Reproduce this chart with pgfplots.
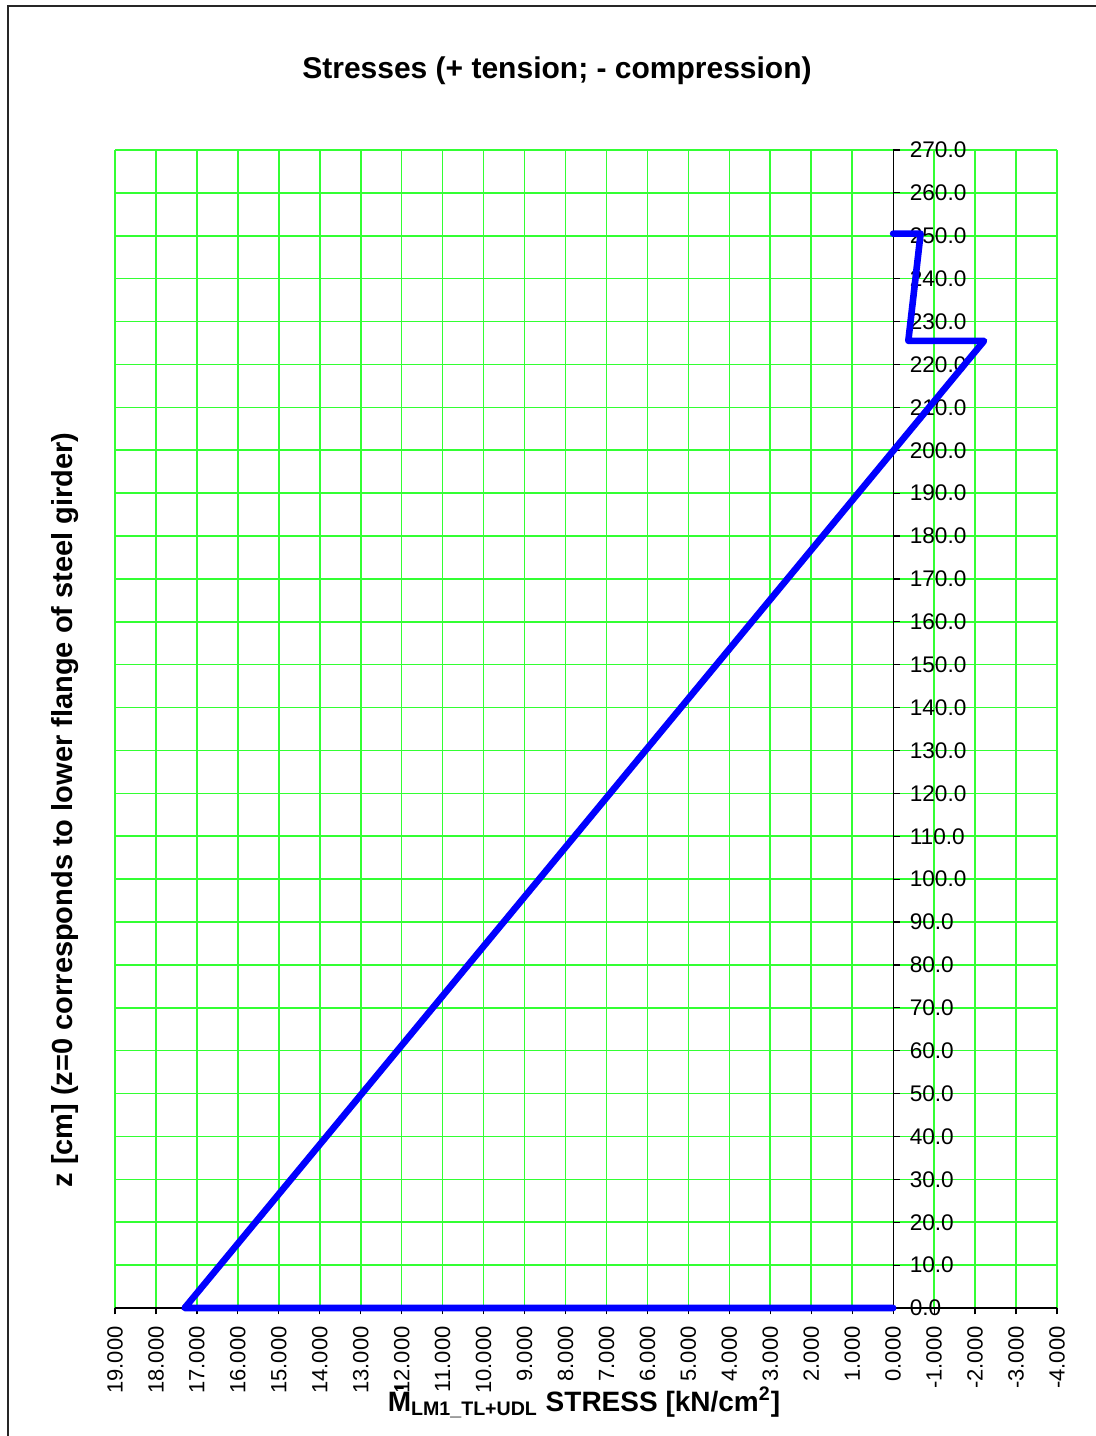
\documentclass[border=0pt]{standalone}
\usepackage{fontspec}
\setmainfont{Liberation Sans}
\usepackage{pgfplots}
\pgfplotsset{compat=1.18}
\definecolor{gridgreen}{RGB}{51,255,51}
\definecolor{lineblue}{RGB}{0,0,255}

\begin{document}
\begin{tikzpicture}
% frame, title and axis titles, laid out on a 0.5pt grid
\begin{scope}[x=0.5pt,y=-0.5pt]
  \useasboundingbox (0,0) rectangle (1096,1436);
  \draw[line width=0.8pt, black!85] (8,1436) -- (8,6) -- (1096,6);
  \node[font=\bfseries\fontsize{15}{18}\selectfont] at (557,71)
    {Stresses (+ tension; - compression)};
  \node[font=\bfseries\fontsize{14.5}{17}\selectfont, rotate=90] at (65,810)
    {z [cm] (z=0 corresponds to lower flange of steel girder)};
  \node[font=\bfseries\fontsize{14}{16}\selectfont, anchor=base] at (584,1411)
    {\={M}\textsubscript{LM1\_TL+UDL} STRESS [kN/cm\textsuperscript{2}]};
\end{scope}

\begin{axis}[
  at={(57.5pt,-654pt)}, anchor=south west,
  width=471pt, height=579pt, scale only axis,
  xmin=-4, xmax=19, x dir=reverse,
  ymin=0, ymax=270,
  axis x line=bottom, axis y line=middle,
  axis line style={-, black, line width=0.6pt},
  hide obscured x ticks=false, hide obscured y ticks=false,
  % the zero ticks sit on the axis lines, so they get no grid line
  xtick={-4,-3,-2,-1,1,2,...,19}, ytick={10,20,...,270},
  extra x ticks={0}, extra y ticks={0},
  extra tick style={grid=none},
  grid=major, major grid style={gridgreen, line width=0.8pt},
  tick style={black, line width=0.6pt},
  major tick length=3.2pt,
  tick align=outside,
  /pgf/number format/assume math mode=true,
  % rotated labels: the shift acts along the text, i.e. downwards
  xticklabel style={rotate=90, anchor=east, xshift=-2.5pt,
    font=\fontsize{11}{13}\selectfont,
    /pgf/number format/.cd, fixed, fixed zerofill, precision=3},
  yticklabel style={anchor=west, xshift=8pt,
    font=\fontsize{11.3}{13}\selectfont,
    /pgf/number format/.cd, fixed, fixed zerofill, precision=1},
  clip=false,
]
\addplot[lineblue, line width=3.3pt, line join=round, line cap=round]
  coordinates {
    (0,0) (17.3,0) (-2.22,225.5) (-0.37,225.5) (-0.67,250.5) (0,250.5)
  };
\end{axis}
\end{tikzpicture}
\end{document}
